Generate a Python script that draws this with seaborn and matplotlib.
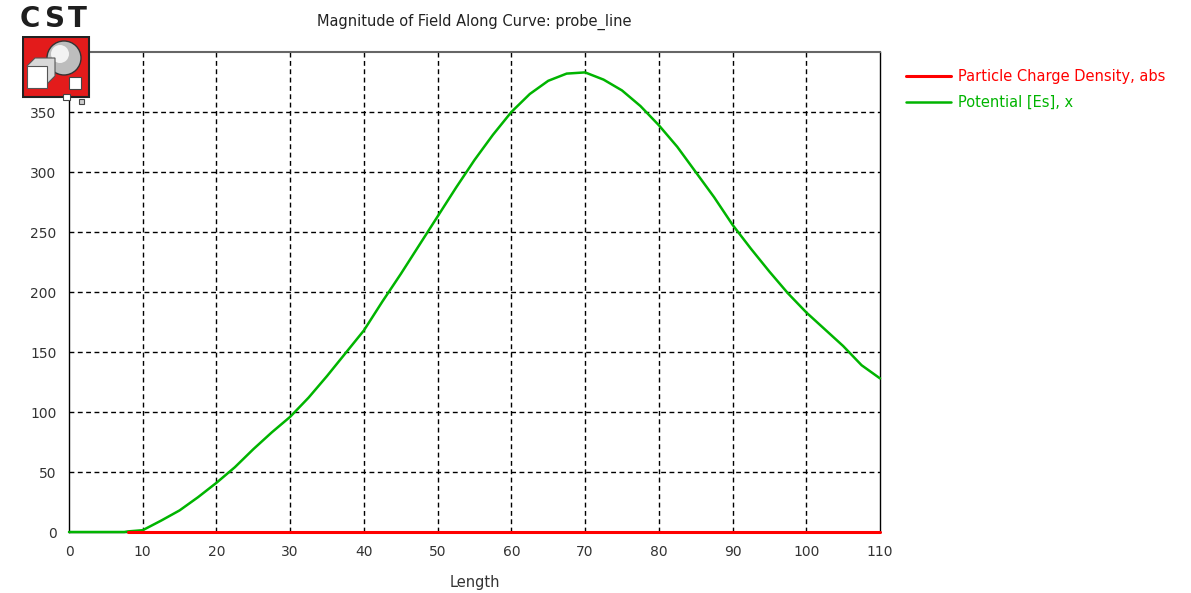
import matplotlib
matplotlib.use("Agg")
import matplotlib.pyplot as plt
import matplotlib.patches as mpatches
import seaborn as sns
import pandas as pd

# data
length = [0, 2.5, 5, 7.5, 8, 10, 12.5, 15, 17.5, 20, 22.5, 25, 27.5, 30, 32.5, 35,
          37.5, 40, 42.5, 45, 47.5, 50, 52.5, 55, 57.5, 60, 62.5, 65, 67.5, 70,
          72.5, 75, 77.5, 80, 82.5, 85, 87.5, 90, 92.5, 95, 97.5, 100, 102.5,
          105, 107.5, 110]
potential = [0, 0, 0, 0, 0.5, 1.5, 9.5, 18, 29, 41, 54, 69, 83, 96, 112, 130,
             149, 168, 192, 215, 239, 263, 287, 310, 331, 350, 365, 376, 382, 383,
             377, 368, 355, 339, 321, 300, 279, 256, 236, 217, 199, 183, 169,
             155, 139, 128]
charge_x = [8, 110]
charge_y = [0, 0]

x_ticks = list(range(0, 111, 10))
y_ticks = list(range(0, 351, 50))

GREEN = "#00b400"
RED = "#ff0000"

sns.set_style("white")
plt.rcParams['font.family'] = ['DejaVu Sans']

fig = plt.figure(figsize=(11.91, 5.93), dpi=100)
ax = fig.add_axes([69 / 1191, 1 - 532 / 593, (880 - 69) / 1191, (532 - 52) / 593])

df_pot = pd.DataFrame({"Length": length, "value": potential})
df_chg = pd.DataFrame({"Length": charge_x, "value": charge_y})

sns.lineplot(data=df_pot, x="Length", y="value", color=GREEN, lw=1.8, ax=ax,
             label="Potential [Es], x", zorder=4, clip_on=False)
sns.lineplot(data=df_chg, x="Length", y="value", color=RED, lw=2.2, ax=ax,
             label="Particle Charge Density, abs", zorder=5, clip_on=False)

ax.set_xlim(0, 110)
ax.set_ylim(0, 400)
ax.set_xticks(x_ticks)
ax.set_yticks(y_ticks)
ax.tick_params(direction="inout", length=6, width=1, colors="black",
               labelsize=10, labelcolor="#333333", pad=6)

for v in x_ticks[1:-1]:
    ax.axvline(v, color="black", lw=1, ls=(0, (3.5, 2.5)), zorder=1)
for v in y_ticks[1:]:
    ax.axhline(v, color="black", lw=1, ls=(0, (3.5, 2.5)), zorder=1)

for s in ["left", "bottom", "right"]:
    ax.spines[s].set_color("black")
    ax.spines[s].set_linewidth(1)
ax.spines["top"].set_color("#666666")
ax.spines["top"].set_linewidth(1.5)

ax.set_xlabel("Length", fontsize=10.5, color="#333333", labelpad=12)
ax.set_ylabel("")
ax.set_title("Magnitude of Field Along Curve: probe_line", fontsize=10.5,
             color="#222222", pad=19)

ax.get_legend().remove()
h, l = ax.get_legend_handles_labels()
order = [1, 0]
leg = fig.legend([h[i] for i in order], [l[i] for i in order], loc="upper left",
                 bbox_to_anchor=(893 / 1191, 1 - 56 / 593), frameon=False,
                 fontsize=10.5, handlelength=3.1, handletextpad=0.45,
                 labelspacing=0.75, labelcolor="linecolor")

# CST logo (simplified)
for ch, xp in zip("CST", [20, 45, 68]):
    fig.text(xp / 1191, 1 - 27 / 593, ch, fontsize=20, fontweight="heavy",
             color="#1e1e1e", ha="left", va="baseline")
logo = fig.add_axes([22 / 1191, 1 - 106 / 593, 70 / 1191, 70 / 593])
logo.set_xlim(0, 70)
logo.set_ylim(70, 0)
logo.axis("off")
logo.add_patch(mpatches.Rectangle((1, 1), 66, 60, facecolor="#e31b1b",
                                  edgecolor="#222222", lw=1.5))
logo.add_patch(mpatches.Circle((42, 22), 17, facecolor="#bdbdbd",
                               edgecolor="#333333", lw=1))
logo.add_patch(mpatches.Circle((38, 18), 9, facecolor="#f2f2f2", edgecolor="none"))
logo.add_patch(mpatches.Polygon([[5, 30], [13, 22], [33, 22], [33, 40], [25, 48]],
                                closed=True, facecolor="#d8d8d8", edgecolor="#555555", lw=0.8))
logo.add_patch(mpatches.Rectangle((5, 30), 20, 22, facecolor="white",
                                  edgecolor="#555555", lw=0.8))
logo.add_patch(mpatches.Rectangle((47, 41), 12, 12, facecolor="white",
                                  edgecolor="#444444", lw=0.8))
logo.add_patch(mpatches.Rectangle((41, 58), 7, 6, facecolor="white",
                                  edgecolor="#444444", lw=0.8))
logo.add_patch(mpatches.Rectangle((57, 63), 5, 5, facecolor="#cccccc",
                                  edgecolor="#444444", lw=0.8))

fig.savefig("out.png", dpi=100)
